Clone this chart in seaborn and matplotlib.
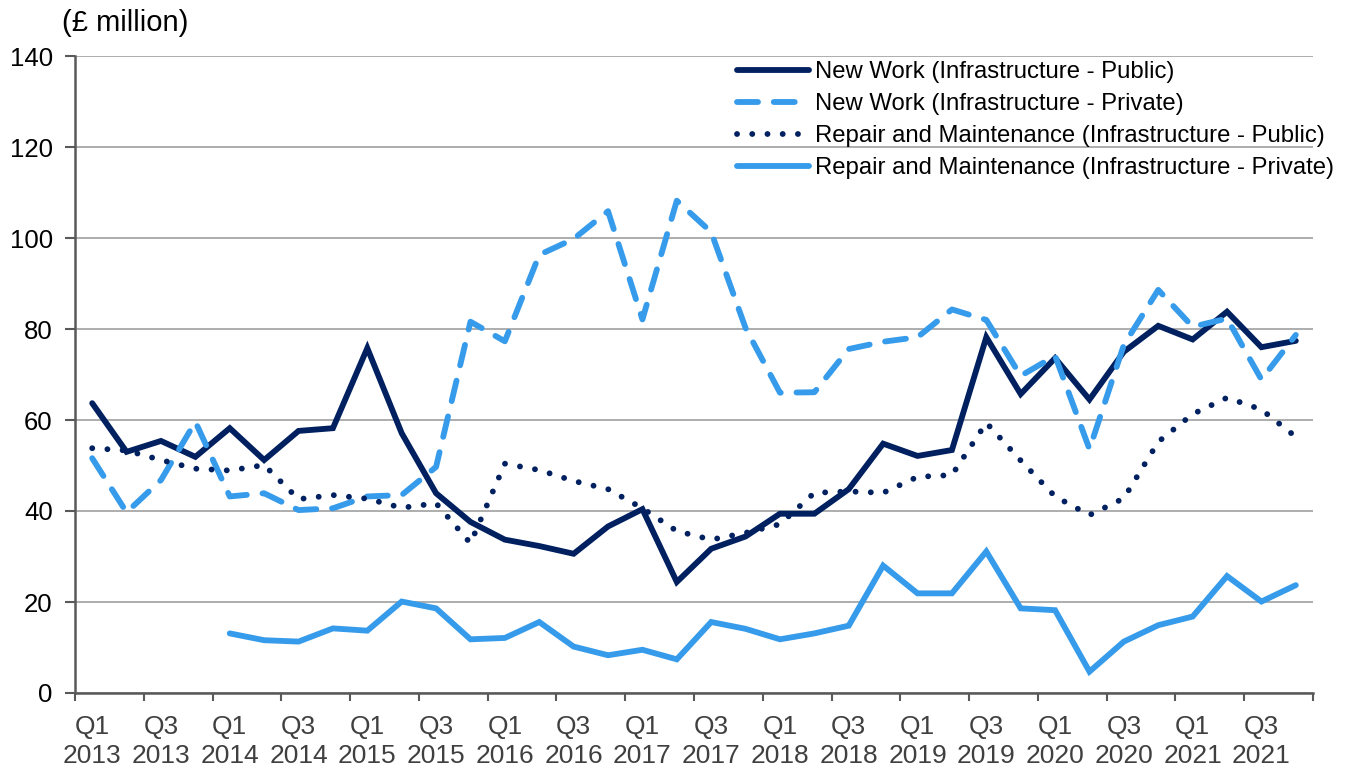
import numpy as np
import pandas as pd
import matplotlib
matplotlib.use("Agg")
import matplotlib.pyplot as plt
import seaborn as sns

# ---- data ----
years = [2013, 2014, 2015, 2016, 2017, 2018, 2019, 2020, 2021]
quarters = ["Q1", "Q2", "Q3", "Q4"]
periods = [f"{q} {y}" for y in years for q in quarters]

new_work_public = [63.7, 53.0, 55.4, 51.9, 58.2, 51.2, 57.6, 58.2, 75.8, 57.1, 43.9, 37.6,
                   33.7, 32.3, 30.6, 36.6, 40.4, 24.4, 31.7, 34.4, 39.4, 39.4, 44.8, 54.8,
                   52.1, 53.4, 78.2, 65.7, 73.6, 64.5, 75.0, 80.7, 77.7, 83.8, 76.0, 77.4]
new_work_private = [51.6, 39.7, 46.8, 59.6, 43.2, 43.9, 40.2, 40.6, 43.2, 43.5, 49.7, 81.6,
                    77.3, 96.3, 99.8, 105.9, 82.1, 108.2, 101.3, 80.2, 66.0, 66.1, 75.6, 77.2,
                    78.2, 84.3, 82.0, 69.7, 74.1, 53.6, 76.5, 88.6, 80.5, 82.3, 68.9, 78.7]
rm_public = [53.8, 53.3, 51.2, 49.3, 48.9, 50.1, 42.6, 43.5, 42.7, 40.7, 41.7, 32.9,
             50.4, 49.0, 46.6, 44.8, 40.6, 35.6, 33.7, 35.2, 37.1, 44.0, 44.3, 44.0,
             47.5, 47.9, 59.4, 51.1, 43.2, 39.1, 42.8, 55.2, 61.3, 64.9, 62.3, 56.3]
rm_private = [np.nan, np.nan, np.nan, np.nan, 13.1, 11.6, 11.3, 14.2, 13.7, 20.1, 18.6, 11.8,
              12.1, 15.6, 10.2, 8.3, 9.5, 7.4, 15.6, 14.1, 11.8, 13.1, 14.8, 28.0,
              21.9, 21.9, 31.1, 18.6, 18.2, 4.7, 11.3, 14.9, 16.8, 25.7, 20.1, 23.7]

series_names = [
    "New Work (Infrastructure - Public)",
    "New Work (Infrastructure - Private)",
    "Repair and Maintenance (Infrastructure - Public)",
    "Repair and Maintenance (Infrastructure - Private)",
]
series_values = [new_work_public, new_work_private, rm_public, rm_private]

tick_labels = [f"{q}\n{y}" for y in years for q in ["Q1", "Q3"]]
y_label = "(£ million)"

# ---- styling ----
NAVY = "#002060"
LIGHT = "#369BEA"
colors = [NAVY, LIGHT, NAVY, LIGHT]
LW = 4.2
dash_styles = [None, (3.6, 2.7), (0.01, 2.6), None]

sns.set_style("white")
plt.rcParams["font.family"] = ["Liberation Sans", "DejaVu Sans"]

fig = plt.figure(figsize=(13.52, 7.71), dpi=100)
ax = fig.add_axes([75 / 1352, 1 - 693 / 771, (1313 - 75) / 1352, (693 - 56) / 771])

x = np.arange(len(periods))
for name, vals, col, ds in zip(series_names, series_values, colors, dash_styles):
    df = pd.DataFrame({"x": x, "y": vals}).dropna()
    sns.lineplot(data=df, x="x", y="y", color=col, linewidth=LW, label=name, ax=ax,
                 estimator=None, sort=False)
    ln = ax.lines[-1]
    ln.set_solid_capstyle("round")
    ln.set_solid_joinstyle("miter")
    if ds is not None:
        ln.set_dashes(ds)
        ln.set_dash_capstyle("round")

ax.set_xlim(-0.5, len(periods) - 0.5)
ax.set_ylim(0, 140)
ax.set_yticks(np.arange(0, 141, 20))
ax.yaxis.grid(True, color="#ADADAD", linewidth=1.4)
ax.xaxis.grid(False)
ax.set_axisbelow(True)

# x ticks: marks at boundaries every 2 quarters, labels at Q1/Q3
ax.set_xticks(np.arange(-0.5, len(periods), 2))
ax.set_xticklabels([])
ax.set_xticks(np.arange(0, len(periods), 2), minor=True)
ax.set_xticklabels(tick_labels, minor=True, fontsize=19, color="#404040", linespacing=1.24)
ax.tick_params(axis="x", which="major", length=6, width=1.5, color="#595959", direction="out",
               bottom=True)
ax.tick_params(axis="x", which="minor", length=0, pad=16)
ax.tick_params(axis="y", length=7, width=1.5, color="#595959", direction="out", left=True,
               labelsize=18.5, labelcolor="black", pad=9)

for s in ["top", "right"]:
    ax.spines[s].set_visible(False)
for s in ["left", "bottom"]:
    ax.spines[s].set_color("#595959")
    ax.spines[s].set_linewidth(1.8)

ax.set_xlabel("")
ax.set_ylabel("")

fig.text(62 / 1352, 1 - 23 / 771, y_label, fontsize=21, ha="left", va="center", color="black")

leg = ax.legend(loc="upper left", bbox_to_anchor=(737 / 1352, 1 - 61 / 771),
                bbox_transform=fig.transFigure, frameon=False, fontsize=17.2,
                handlelength=3.0, handletextpad=0.25, labelspacing=0.42, borderpad=0,
                borderaxespad=0)
for t in leg.get_texts():
    t.set_color("black")

fig.savefig("out.png", dpi=100)
